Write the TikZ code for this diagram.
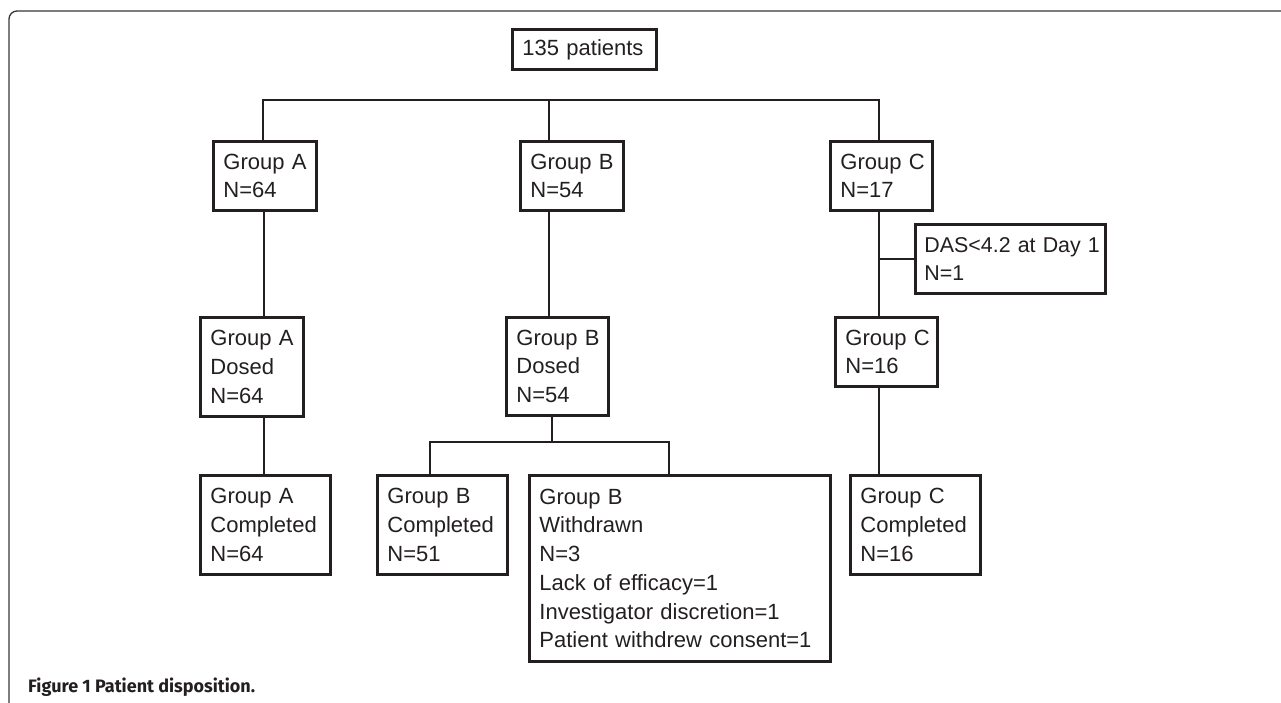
\documentclass[tikz,border=0pt]{standalone}
\usepackage{fontspec}
\setmainfont{Liberation Sans}
\newfontfamily\capfont{Fira Sans}
\definecolor{ink}{HTML}{231F20}
\begin{document}
\begin{tikzpicture}[x=1pt,y=-1pt,
  box/.style={draw=ink, line width=2.8pt, text=ink, inner sep=0pt, anchor=north west,
    align=left, font=\fontsize{22}{28.7}\selectfont},
  conn/.style={draw=ink, line width=2.6pt},
  frame/.style={draw=ink!90, line width=1.3pt, rounded corners=8pt}]
\useasboundingbox (0,0) rectangle (1281,703);
\draw[frame] (1285,11) -- (9,11) -- (9,707);

\node[box, minimum width=144pt, minimum height=40pt, text width=124pt] (root) at (511,28) {135~patients};

\node[box, minimum width=103pt, minimum height=69pt, text width=83pt] (ga) at (212,140) {Group~A\\N=64};
\node[box, minimum width=103pt, minimum height=69pt, text width=83pt] (gb) at (519,140) {Group~B\\N=54};
\node[box, minimum width=102pt, minimum height=69pt, text width=82pt] (gc) at (829,140) {Group~C\\N=17};

\node[box, minimum width=190pt, minimum height=69pt, text width=172pt,
  font=\fontsize{21.4}{28.7}\selectfont] (das) at (914,223) {DAS<4.2~at~Day~1\\N=1};

\node[box, minimum width=103pt, minimum height=99pt, text width=83pt] (da) at (199,316) {Group~A\\Dosed\\N=64};
\node[box, minimum width=102pt, minimum height=98pt, text width=82pt] (db) at (505,316) {Group~B\\Dosed\\N=54};
\node[box, minimum width=102pt, minimum height=69pt, text width=82pt] (gc2) at (834,316) {Group~C\\N=16};

\node[box, minimum width=130pt, minimum height=99pt, text width=110pt] (ca) at (199,474) {Group~A\\Completed\\N=64};
\node[box, minimum width=130pt, minimum height=99pt, text width=110pt] (cb) at (376,474) {Group~B\\Completed\\N=51};
\node[box, minimum width=301pt, minimum height=186pt, text width=281pt] (wb) at (528,474)
  {Group~B\\Withdrawn\\N=3\\Lack~of~efficacy=1\\Investigator~discretion=1\\Patient~withdrew~consent=1};
\node[box, minimum width=130pt, minimum height=99pt, text width=110pt] (cc) at (849,474) {Group~C\\Completed\\N=16};

\node[anchor=base west, inner sep=0pt, text=ink, font=\capfont\bfseries\fontsize{18}{20}\selectfont] (cap) at (28,692) {Figure 1 Patient disposition.};

% connectors
\coordinate (busA) at (263,100);
\coordinate (busB) at (549,100);
\coordinate (busC) at (879,100);
\coordinate (xa) at (264,0);
\coordinate (xb) at (552,442);
\coordinate (sl) at (430,442);
\coordinate (sr) at (669,442);

\draw[conn] (busA |- ga.north) -- (busA) -- (busC) -- (busC |- gc.north);
\draw[conn] (busB) -- (busB |- gb.north);

\draw[conn] (xa |- ga.south) -- (xa |- da.north);
\draw[conn] (xa |- da.south) -- (xa |- ca.north);

\draw[conn] (busB |- gb.south) -- (busB |- db.north);
\draw[conn] (xb |- db.south) -- (xb);
\draw[conn] (sl |- cb.north) -- (sl) -- (sr) -- (sr |- wb.north);

\draw[conn] (busC |- gc.south) -- (busC |- gc2.north);
\draw[conn] (busC |- das.west) -- (das.west);
\draw[conn] (busC |- gc2.south) -- (busC |- cc.north);
\end{tikzpicture}
\end{document}
